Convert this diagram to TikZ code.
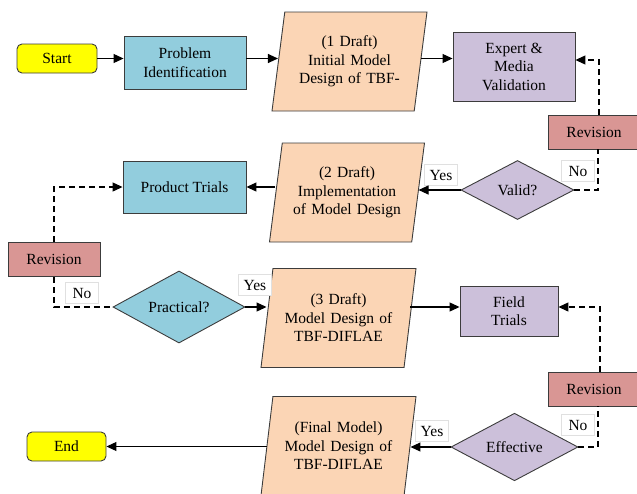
\documentclass[tikz,border=0pt]{standalone}
\usepackage{fontspec}
\setmainfont{Liberation Serif}
\usetikzlibrary{shapes.geometric,arrows.meta}
\definecolor{cyel}{RGB}{255,255,0}
\definecolor{cblue}{RGB}{146,205,221}
\definecolor{cpeach}{RGB}{251,213,181}
\definecolor{cpurp}{RGB}{204,192,218}
\definecolor{cred}{RGB}{217,150,148}
\definecolor{cline}{RGB}{60,60,60}
\tikzset{
  base/.style={draw=cline, line width=0.9pt, inner sep=0pt, align=center,
    font=\fontsize{15.5}{18.5}\selectfont},
  term/.style={base, fill=cyel, rounded corners=5pt},
  bluebox/.style={base, fill=cblue, rectangle},
  purpbox/.style={base, fill=cpurp, rectangle},
  revbox/.style={base, fill=cred, rectangle, minimum width=92pt, minimum height=34pt},
  para/.style={base, fill=cpeach, trapezium, trapezium left angle=76, trapezium right angle=104,
    trapezium stretches body, minimum width=155pt, minimum height=99pt, text width=118pt},
  decision/.style={base, diamond},
  lbl/.style={draw=black!12, fill=white, inner sep=0pt, minimum width=33pt, minimum height=21pt,
    font=\fontsize{15.5}{18.5}\selectfont},
  arr/.style={line width=1.1pt, -{Triangle[length=10pt,width=9pt]}},
  dsh/.style={line width=1.2pt, dash pattern=on 6pt off 4pt},
  dsharr/.style={dsh, -{Triangle[length=10pt,width=9pt]}}
}
\begin{document}
\begin{tikzpicture}[x=1pt,y=-1pt]
\useasboundingbox (0,0) rectangle (637,493);
\clip (0,0) rectangle (637,493);
% nodes
\node[term, minimum width=80pt, minimum height=29pt] (start) at (57,58.5) {Start};
\node[bluebox, minimum width=122pt, minimum height=53pt] (pi) at (185,62.5) {Problem\\Identification};
\node[para] (p1) at (349.5,61.5) {(1 Draft)\\Initial Model\\Design of TBF-};
\node[purpbox, minimum width=122pt, minimum height=69pt] (ex) at (514,66.5) {Expert \&\\Media\\Validation};
\node[revbox] (rev1) at (594,132) {Revision};
\node[decision, minimum width=113pt, minimum height=59pt, fill=cpurp] (valid) at (517.5,190) {Valid?};
\node[para] (p2) at (347,192.5) {(2 Draft)\\Implementation\\of Model Design};
\node[bluebox, minimum width=123pt, minimum height=52pt] (pt) at (184.5,187) {Product Trials};
\node[revbox] (rev2) at (54,259.5) {Revision};
\node[decision, minimum width=132pt, minimum height=58pt, fill=cblue] (prac) at (179,307) {Practical?};
\node[para] (p3) at (338.5,318) {(3 Draft)\\Model Design of\\TBF-DIFLAE};
\node[purpbox, minimum width=98pt, minimum height=50pt] (ft) at (509,311) {Field\\Trials};
\node[revbox] (rev3) at (594,389) {Revision};
\node[decision, minimum width=127pt, minimum height=66pt, fill=cpurp] (eff) at (514.5,447) {Effective};
\node[para] (p4) at (338.5,446) {(Final Model)\\Model Design of\\TBF-DIFLAE};
\node[term, minimum width=79pt, minimum height=29pt] (end) at (66.5,446.5) {End};
% labels
\node[lbl] (no1) at (578,171) {No};
\node[lbl] (yes1) at (441,175) {Yes};
\node[lbl] (no2) at (82,293) {No};
\node[lbl] (yes2) at (255,285) {Yes};
\node[lbl] (no3) at (578,425) {No};
\node[lbl] (yes3) at (432,431) {Yes};
% solid connectors
\draw[arr] (start.east) -- (start.east -| pi.west);
\draw[arr] (pi.east |- start.east) -- (start.east -| p1.west);
\draw[arr] (p1.east |- start.east) -- (start.east -| ex.west);
\draw[arr] (valid.west) -- (valid.west -| p2.east);
\draw[arr] (p2.west |- pt.east) -- (pt.east);
\draw[arr] (prac.east) -- (prac.east -| p3.west);
\draw[arr] (p3.east |- prac.east) -- (prac.east -| ft.west);
\draw[arr] (eff.west) -- (eff.west -| p4.east);
\draw[arr] (p4.west |- end.east) -- (end.east);
% dashed connectors
\draw[dsharr] ([xshift=5pt]rev1.north) |- ([yshift=6.5pt]ex.east);
\draw[dsh] (valid.east) -| ([xshift=4pt]rev1.south);
\draw[dsharr] (rev2.north) |- (pt.west);
\draw[dsh] (rev2.south) |- (prac.west);
\draw[dsharr] ([xshift=6pt]rev3.north) |- ([yshift=4pt]ft.east);
\draw[dsh] (eff.east) -| ([xshift=4pt]rev3.south);
\end{tikzpicture}
\end{document}
